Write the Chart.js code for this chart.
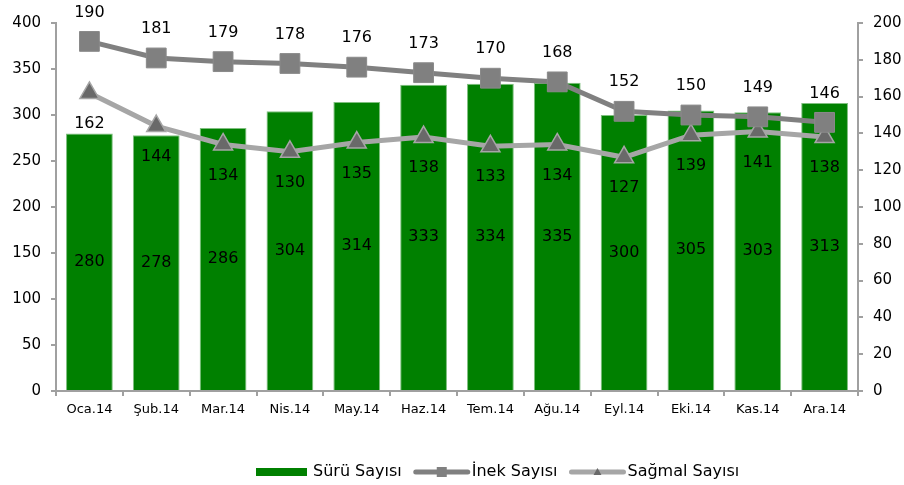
<!DOCTYPE html>
<html>
<head>
<meta charset="utf-8">
<script src="https://cdn.jsdelivr.net/npm/chart.js@4/dist/chart.umd.min.js"></script>
<style>
  html, body { margin: 0; padding: 0; background: #fff; }
  #wrap { width: 904px; height: 485px; position: relative; }
</style>
</head>
<body>
<div id="wrap"><canvas id="myChart"></canvas></div>
<script>
const months = ["Oca.14", "Şub.14", "Mar.14", "Nis.14", "May.14", "Haz.14",
  "Tem.14", "Ağu.14", "Eyl.14", "Eki.14", "Kas.14", "Ara.14"];
const suruSayisi = [280, 278, 286, 304, 314, 333, 334, 335, 300, 305, 303, 313];
const inekSayisi = [190, 181, 179, 178, 176, 173, 170, 168, 152, 150, 149, 146];
const sagmalSayisi = [162, 144, 134, 130, 135, 138, 133, 134, 127, 139, 141, 138];

const FONT = "'DejaVu Sans', Verdana, sans-serif";

// value labels: bars in the middle, İnek above, Sağmal below
const valueLabels = {
  id: "valueLabels",
  afterDatasetsDraw(chart) {
    const ctx = chart.ctx;
    ctx.save();
    ctx.font = "16px " + FONT;
    ctx.fillStyle = "#000";
    ctx.textAlign = "center";
    ctx.textBaseline = "middle";
    chart.data.datasets.forEach((ds, di) => {
      const meta = chart.getDatasetMeta(di);
      meta.data.forEach((el, i) => {
        let y;
        if (ds.type === "bar") y = (el.y + el.base) / 2;
        else if (ds.label === "İnek Sayısı") y = el.y - 29;
        else y = el.y + 31;
        ctx.fillText(ds.data[i], el.x, y);
      });
    });
    ctx.restore();
  },
};

// legend drawn at the bottom, line + marker style
const bottomLegend = {
  id: "bottomLegend",
  afterDraw(chart) {
    const ctx = chart.ctx;
    ctx.save();
    ctx.font = "16px " + FONT;
    ctx.textBaseline = "middle";
    const y = 472;
    let x = 256;
    chart.data.datasets.forEach((ds) => {
      if (ds.type === "bar") {
        ctx.fillStyle = ds.backgroundColor;
        ctx.fillRect(x, y - 4, 51, 8);
        x += 57;
      } else {
        ctx.strokeStyle = ds.borderColor;
        ctx.lineWidth = 5;
        ctx.lineCap = "round";
        ctx.beginPath();
        ctx.moveTo(x + 2, y);
        ctx.lineTo(x + 54, y);
        ctx.stroke();
        ctx.fillStyle = ds.pointBackgroundColor;
        if (ds.pointStyle === "rect") {
          ctx.fillRect(x + 23, y - 5, 10, 10);
        } else {
          ctx.beginPath();
          ctx.moveTo(x + 28, y - 4);
          ctx.lineTo(x + 32, y + 3);
          ctx.lineTo(x + 24, y + 3);
          ctx.closePath();
          ctx.fill();
        }
        x += 58;
      }
      ctx.fillStyle = "#000";
      ctx.textAlign = "left";
      ctx.fillText(ds.label, x, y);
      x += ctx.measureText(ds.label).width + 12;
    });
    ctx.restore();
  },
};

const ctx = document.getElementById("myChart").getContext("2d");
const myChart = new Chart(ctx, {
  data: {
    labels: months,
    datasets: [
      {
        type: "bar",
        label: "Sürü Sayısı",
        data: suruSayisi,
        yAxisID: "y",
        backgroundColor: "#008000",
        borderColor: "#7fbf7f",
        borderWidth: { top: 1, left: 1, right: 1, bottom: 0 },
        barPercentage: 0.7,
        categoryPercentage: 1,
        order: 3,
      },
      {
        type: "line",
        label: "İnek Sayısı",
        data: inekSayisi,
        yAxisID: "y1",
        borderColor: "#808080",
        borderWidth: 5,
        pointStyle: "rect",
        pointRadius: 14,
        pointBackgroundColor: "#808080",
        pointBorderColor: "#8a8a8a",
        pointBorderWidth: 1,
        tension: 0,
        order: 1,
      },
      {
        type: "line",
        label: "Sağmal Sayısı",
        data: sagmalSayisi,
        yAxisID: "y1",
        borderColor: "#a6a6a6",
        borderWidth: 5,
        pointStyle: "triangle",
        pointRadius: 11,
        pointBackgroundColor: "#696969",
        pointBorderColor: "#a6a6a6",
        pointBorderWidth: 1.5,
        tension: 0,
        order: 2,
      },
    ],
  },
  options: {
    responsive: true,
    maintainAspectRatio: false,
    animation: false,
    layout: { padding: { top: 23, left: 0, right: 0, bottom: 0 } },
    plugins: {
      legend: { display: false },
      tooltip: { enabled: false },
    },
    scales: {
      x: {
        offset: true,
        grid: { offset: true, drawOnChartArea: false, tickLength: 5, color: "#a0a0a0", lineWidth: 2 },
        border: { color: "#a0a0a0", width: 2 },
        ticks: { color: "#000", font: { family: FONT, size: 13 }, padding: 6, maxRotation: 0 },
        afterFit(scale) { scale.height = 94; },
      },
      y: {
        position: "left",
        min: 0,
        max: 400,
        ticks: { stepSize: 50, color: "#000", font: { family: FONT, size: 15 }, padding: 10 },
        grid: { drawOnChartArea: false, tickLength: 5, color: "#a0a0a0", lineWidth: 2 },
        border: { color: "#a0a0a0", width: 2 },
        afterFit(scale) { scale.width = 56; },
      },
      y1: {
        position: "right",
        min: 0,
        max: 200,
        ticks: { stepSize: 20, color: "#000", font: { family: FONT, size: 15 }, padding: 10 },
        grid: { drawOnChartArea: false, tickLength: 5, color: "#a0a0a0", lineWidth: 2 },
        border: { color: "#a0a0a0", width: 2 },
        afterFit(scale) { scale.width = 46; },
      },
    },
  },
  plugins: [valueLabels, bottomLegend],
});
</script>
</body>
</html>
